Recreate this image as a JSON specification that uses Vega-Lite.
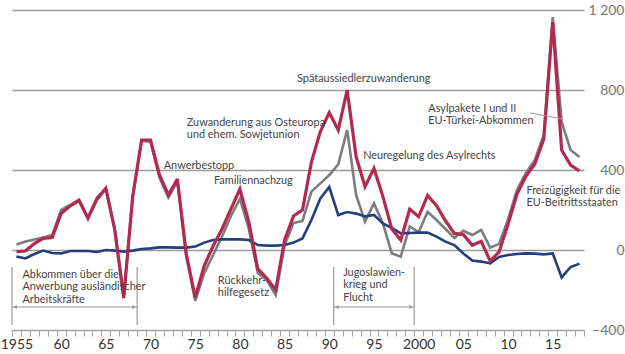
{
  "$schema": "https://vega.github.io/schema/vega-lite/v6.json",
  "width": 572,
  "height": 320,
  "autosize": {"type": "none"},
  "padding": {"left": 12, "top": 10, "right": 41, "bottom": 24},
  "background": "white",
  "config": {"view": {"stroke": null}, "font": "Lato"},
  "resolve": {"axis": {"x": "independent"}},
  "datasets": {
    "lines": [
      {"year":1955,"series":"Gesamt","value":-8},{"year":1955,"series":"Ausländer","value":28},{"year":1955,"series":"Deutsche","value":-32},
      {"year":1956,"series":"Gesamt","value":-5},{"year":1956,"series":"Ausländer","value":42},{"year":1956,"series":"Deutsche","value":-42},
      {"year":1957,"series":"Gesamt","value":32},{"year":1957,"series":"Ausländer","value":53},{"year":1957,"series":"Deutsche","value":-20},
      {"year":1958,"series":"Gesamt","value":58},{"year":1958,"series":"Ausländer","value":63},{"year":1958,"series":"Deutsche","value":-3},
      {"year":1959,"series":"Gesamt","value":62},{"year":1959,"series":"Ausländer","value":75},{"year":1959,"series":"Deutsche","value":-15},
      {"year":1960,"series":"Gesamt","value":183},{"year":1960,"series":"Ausländer","value":200},{"year":1960,"series":"Deutsche","value":-17},
      {"year":1961,"series":"Gesamt","value":220},{"year":1961,"series":"Ausländer","value":225},{"year":1961,"series":"Deutsche","value":-5},
      {"year":1962,"series":"Gesamt","value":247},{"year":1962,"series":"Ausländer","value":252},{"year":1962,"series":"Deutsche","value":-5},
      {"year":1963,"series":"Gesamt","value":158},{"year":1963,"series":"Ausländer","value":163},{"year":1963,"series":"Deutsche","value":-5},
      {"year":1964,"series":"Gesamt","value":253},{"year":1964,"series":"Ausländer","value":263},{"year":1964,"series":"Deutsche","value":-10},
      {"year":1965,"series":"Gesamt","value":308},{"year":1965,"series":"Ausländer","value":308},{"year":1965,"series":"Deutsche","value":0},
      {"year":1966,"series":"Gesamt","value":100},{"year":1966,"series":"Ausländer","value":103},{"year":1966,"series":"Deutsche","value":-3},
      {"year":1967,"series":"Gesamt","value":-240},{"year":1967,"series":"Ausländer","value":-232},{"year":1967,"series":"Deutsche","value":-8},
      {"year":1968,"series":"Gesamt","value":265},{"year":1968,"series":"Ausländer","value":268},{"year":1968,"series":"Deutsche","value":-3},
      {"year":1969,"series":"Gesamt","value":550},{"year":1969,"series":"Ausländer","value":545},{"year":1969,"series":"Deutsche","value":5},
      {"year":1970,"series":"Gesamt","value":550},{"year":1970,"series":"Ausländer","value":542},{"year":1970,"series":"Deutsche","value":8},
      {"year":1971,"series":"Gesamt","value":375},{"year":1971,"series":"Ausländer","value":362},{"year":1971,"series":"Deutsche","value":13},
      {"year":1972,"series":"Gesamt","value":275},{"year":1972,"series":"Ausländer","value":262},{"year":1972,"series":"Deutsche","value":13},
      {"year":1973,"series":"Gesamt","value":355},{"year":1973,"series":"Ausländer","value":343},{"year":1973,"series":"Deutsche","value":12},
      {"year":1974,"series":"Gesamt","value":-20},{"year":1974,"series":"Ausländer","value":-32},{"year":1974,"series":"Deutsche","value":12},
      {"year":1975,"series":"Gesamt","value":-237},{"year":1975,"series":"Ausländer","value":-254},{"year":1975,"series":"Deutsche","value":17},
      {"year":1976,"series":"Gesamt","value":-80},{"year":1976,"series":"Ausländer","value":-117},{"year":1976,"series":"Deutsche","value":37},
      {"year":1977,"series":"Gesamt","value":20},{"year":1977,"series":"Ausländer","value":-25},{"year":1977,"series":"Deutsche","value":50},
      {"year":1978,"series":"Gesamt","value":105},{"year":1978,"series":"Ausländer","value":68},{"year":1978,"series":"Deutsche","value":53},
      {"year":1979,"series":"Gesamt","value":205},{"year":1979,"series":"Ausländer","value":170},{"year":1979,"series":"Deutsche","value":53},
      {"year":1980,"series":"Gesamt","value":305},{"year":1980,"series":"Ausländer","value":255},{"year":1980,"series":"Deutsche","value":53},
      {"year":1981,"series":"Gesamt","value":140},{"year":1981,"series":"Ausländer","value":105},{"year":1981,"series":"Deutsche","value":50},
      {"year":1982,"series":"Gesamt","value":-95},{"year":1982,"series":"Ausländer","value":-115},{"year":1982,"series":"Deutsche","value":25},
      {"year":1983,"series":"Gesamt","value":-140},{"year":1983,"series":"Ausländer","value":-150},{"year":1983,"series":"Deutsche","value":22},
      {"year":1984,"series":"Gesamt","value":-200},{"year":1984,"series":"Ausländer","value":-225},{"year":1984,"series":"Deutsche","value":22},
      {"year":1985,"series":"Gesamt","value":50},{"year":1985,"series":"Ausländer","value":25},{"year":1985,"series":"Deutsche","value":25},
      {"year":1986,"series":"Gesamt","value":170},{"year":1986,"series":"Ausländer","value":135},{"year":1986,"series":"Deutsche","value":37},
      {"year":1987,"series":"Gesamt","value":200},{"year":1987,"series":"Ausländer","value":145},{"year":1987,"series":"Deutsche","value":58},
      {"year":1988,"series":"Gesamt","value":440},{"year":1988,"series":"Ausländer","value":292},{"year":1988,"series":"Deutsche","value":150},
      {"year":1989,"series":"Gesamt","value":592},{"year":1989,"series":"Ausländer","value":333},{"year":1989,"series":"Deutsche","value":258},
      {"year":1990,"series":"Gesamt","value":687},{"year":1990,"series":"Ausländer","value":375},{"year":1990,"series":"Deutsche","value":315},
      {"year":1991,"series":"Gesamt","value":600},{"year":1991,"series":"Ausländer","value":428},{"year":1991,"series":"Deutsche","value":175},
      {"year":1992,"series":"Gesamt","value":800},{"year":1992,"series":"Ausländer","value":600},{"year":1992,"series":"Deutsche","value":190},
      {"year":1993,"series":"Gesamt","value":467},{"year":1993,"series":"Ausländer","value":275},{"year":1993,"series":"Deutsche","value":182},
      {"year":1994,"series":"Gesamt","value":317},{"year":1994,"series":"Ausländer","value":142},{"year":1994,"series":"Deutsche","value":168},
      {"year":1995,"series":"Gesamt","value":408},{"year":1995,"series":"Ausländer","value":233},{"year":1995,"series":"Deutsche","value":175},
      {"year":1996,"series":"Gesamt","value":267},{"year":1996,"series":"Ausländer","value":133},{"year":1996,"series":"Deutsche","value":133},
      {"year":1997,"series":"Gesamt","value":105},{"year":1997,"series":"Ausländer","value":-17},{"year":1997,"series":"Deutsche","value":110},
      {"year":1998,"series":"Gesamt","value":50},{"year":1998,"series":"Ausländer","value":-33},{"year":1998,"series":"Deutsche","value":83},
      {"year":1999,"series":"Gesamt","value":205},{"year":1999,"series":"Ausländer","value":118},{"year":1999,"series":"Deutsche","value":85},
      {"year":2000,"series":"Gesamt","value":167},{"year":2000,"series":"Ausländer","value":90},{"year":2000,"series":"Deutsche","value":87},
      {"year":2001,"series":"Gesamt","value":273},{"year":2001,"series":"Ausländer","value":190},{"year":2001,"series":"Deutsche","value":87},
      {"year":2002,"series":"Gesamt","value":222},{"year":2002,"series":"Ausländer","value":150},{"year":2002,"series":"Deutsche","value":67},
      {"year":2003,"series":"Gesamt","value":146},{"year":2003,"series":"Ausländer","value":105},{"year":2003,"series":"Deutsche","value":42},
      {"year":2004,"series":"Gesamt","value":83},{"year":2004,"series":"Ausländer","value":60},{"year":2004,"series":"Deutsche","value":25},
      {"year":2005,"series":"Gesamt","value":77},{"year":2005,"series":"Ausländer","value":96},{"year":2005,"series":"Deutsche","value":-17},
      {"year":2006,"series":"Gesamt","value":24},{"year":2006,"series":"Ausländer","value":75},{"year":2006,"series":"Deutsche","value":-53},
      {"year":2007,"series":"Gesamt","value":43},{"year":2007,"series":"Ausländer","value":101},{"year":2007,"series":"Deutsche","value":-58},
      {"year":2008,"series":"Gesamt","value":-55},{"year":2008,"series":"Ausländer","value":12},{"year":2008,"series":"Deutsche","value":-67},
      {"year":2009,"series":"Gesamt","value":-10},{"year":2009,"series":"Ausländer","value":30},{"year":2009,"series":"Deutsche","value":-35},
      {"year":2010,"series":"Gesamt","value":128},{"year":2010,"series":"Ausländer","value":153},{"year":2010,"series":"Deutsche","value":-25},
      {"year":2011,"series":"Gesamt","value":280},{"year":2011,"series":"Ausländer","value":300},{"year":2011,"series":"Deutsche","value":-20},
      {"year":2012,"series":"Gesamt","value":368},{"year":2012,"series":"Ausländer","value":385},{"year":2012,"series":"Deutsche","value":-17},
      {"year":2013,"series":"Gesamt","value":430},{"year":2013,"series":"Ausländer","value":450},{"year":2013,"series":"Deutsche","value":-18},
      {"year":2014,"series":"Gesamt","value":555},{"year":2014,"series":"Ausländer","value":577},{"year":2014,"series":"Deutsche","value":-22},
      {"year":2015,"series":"Gesamt","value":1140},{"year":2015,"series":"Ausländer","value":1165},{"year":2015,"series":"Deutsche","value":-17},
      {"year":2016,"series":"Gesamt","value":500},{"year":2016,"series":"Ausländer","value":640},{"year":2016,"series":"Deutsche","value":-137},
      {"year":2017,"series":"Gesamt","value":425},{"year":2017,"series":"Ausländer","value":500},{"year":2017,"series":"Deutsche","value":-85},
      {"year":2018,"series":"Gesamt","value":395},{"year":2018,"series":"Ausländer","value":465},{"year":2018,"series":"Deutsche","value":-68}
    ],
    "rules": [
      {"x":1954.5,"x2":1954.5,"y":-85,"y2":-375},
      {"x":1968.5,"x2":1968.5,"y":-85,"y2":-375},
      {"x":1954.5,"x2":1968.5,"y":-285,"y2":-285},
      {"x":1990.5,"x2":1990.5,"y":-85,"y2":-375},
      {"x":1999.5,"x2":1999.5,"y":-85,"y2":-375},
      {"x":1990.5,"x2":1999.5,"y":-285,"y2":-285},
      {"x":2012.5,"x2":2016.1,"y":685,"y2":655}
    ],
    "arrows": [
      {"year":1954.85,"value":-285,"dir":"l"},
      {"year":1968.15,"value":-285,"dir":"r"},
      {"year":1990.85,"value":-285,"dir":"l"},
      {"year":1999.15,"value":-285,"dir":"r"}
    ],
    "notes": [
      {"year":1986.39,"value":885,"label":["Spätaussiedlerzuwanderung"]},
      {"year":1974.06,"value":665,"label":["Zuwanderung aus Osteuropa","und ehem. Sowjetunion"]},
      {"year":1971.48,"value":450,"label":["Anwerbestopp"]},
      {"year":1977.09,"value":375,"label":["Familiennachzug"]},
      {"year":1977.53,"value":-125,"label":["Rückkehr-","hilfegesetz"]},
      {"year":1993.79,"value":500,"label":["Neuregelung des Asylrechts"]},
      {"year":2001.08,"value":735,"label":["Asylpakete I und II","EU-Türkei-Abkommen"]},
      {"year":2012.06,"value":325,"label":["Freizügigkeit für die","EU-Beitrittsstaaten"]},
      {"year":1955.67,"value":-95,"label":["Abkommen über die","Anwerbung ausländischer","Arbeitskräfte"]},
      {"year":1991.55,"value":-85,"label":["Jugoslawien-","krieg und","Flucht"]}
    ]
  },
  "layer": [
    {
      "data": {"name": "lines"},
      "transform": [{"filter": "datum.series == 'Ausländer'"}],
      "mark": {"type": "line", "color": "#7d7d7d", "strokeWidth": 2.6, "strokeJoin": "miter", "strokeMiterLimit": 3},
      "encoding": {
        "x": {
          "field": "year", "type": "quantitative",
          "scale": {"domain": [1954.5, 2018.5], "nice": false, "zero": false},
          "axis": {
            "orient": "bottom", "title": null, "grid": false, "labels": false,
            "values": [1954.5,1955.5,1956.5,1957.5,1958.5,1959.5,1960.5,1961.5,1962.5,1963.5,1964.5,1965.5,1966.5,1967.5,1968.5,1969.5,1970.5,1971.5,1972.5,1973.5,1974.5,1975.5,1976.5,1977.5,1978.5,1979.5,1980.5,1981.5,1982.5,1983.5,1984.5,1985.5,1986.5,1987.5,1988.5,1989.5,1990.5,1991.5,1992.5,1993.5,1994.5,1995.5,1996.5,1997.5,1998.5,1999.5,2000.5,2001.5,2002.5,2003.5,2004.5,2005.5,2006.5,2007.5,2008.5,2009.5,2010.5,2011.5,2012.5,2013.5,2014.5,2015.5,2016.5,2017.5,2018.5],
            "domain": true, "domainColor": "#a0a0a0", "domainWidth": 1,
            "ticks": true, "tickColor": "#a0a0a0", "tickSize": 6, "tickWidth": 1
          }
        },
        "y": {
          "field": "value", "type": "quantitative",
          "scale": {"domain": [-400, 1200], "nice": false},
          "axis": {
            "orient": "right", "title": null, "values": [-400, 0, 400, 800, 1200],
            "labelExpr": "datum.value == 1200 ? '1 200' : datum.label",
            "grid": true, "gridColor": "#9a9a9a", "gridWidth": 1.5,
            "domain": false, "ticks": false, "labelAlign": "right", "labelPadding": 40,
            "labelFontSize": 14, "labelColor": "#777777", "labelBaseline": "middle"
          }
        }
      }
    },
    {
      "data": {"name": "lines"},
      "transform": [{"filter": "datum.series == 'Deutsche'"}],
      "mark": {"type": "line", "color": "#243f7c", "strokeWidth": 2.6, "strokeJoin": "miter", "strokeMiterLimit": 3},
      "encoding": {
        "x": {"field": "year", "type": "quantitative", "axis": null},
        "y": {"field": "value", "type": "quantitative"}
      }
    },
    {
      "data": {"name": "lines"},
      "transform": [{"filter": "datum.series == 'Gesamt'"}],
      "mark": {"type": "line", "color": "#b22a4f", "strokeWidth": 3.2, "strokeJoin": "miter", "strokeMiterLimit": 3},
      "encoding": {
        "x": {
          "field": "year", "type": "quantitative",
          "axis": {
            "orient": "bottom", "title": null, "grid": false, "domain": false, "ticks": false,
            "values": [1955, 1960, 1965, 1970, 1975, 1980, 1985, 1990, 1995, 2000, 2005, 2010, 2015],
            "labelExpr": "(datum.value == 1955 || datum.value == 2000) ? '' + datum.value : slice('' + datum.value, 2)",
            "labelOverlap": false, "labelFlush": false, "labelBound": false,
            "labelFontSize": 14, "labelColor": "#333333", "labelPadding": 7
          }
        },
        "y": {"field": "value", "type": "quantitative"}
      }
    },
    {
      "data": {"name": "rules"},
      "mark": {"type": "rule", "color": "#9a9a9a", "strokeWidth": 1.2},
      "encoding": {
        "x": {"field": "x", "type": "quantitative", "axis": null},
        "x2": {"field": "x2"},
        "y": {"field": "y", "type": "quantitative"},
        "y2": {"field": "y2"}
      }
    },
    {
      "data": {"name": "arrows"},
      "mark": {"type": "point", "filled": true, "color": "#9a9a9a", "size": 18, "opacity": 1},
      "encoding": {
        "x": {"field": "year", "type": "quantitative", "axis": null},
        "y": {"field": "value", "type": "quantitative"},
        "shape": {"field": "dir", "type": "nominal", "legend": null, "scale": {"domain": ["l", "r"], "range": ["triangle-left", "triangle-right"]}}
      }
    },
    {
      "data": {"name": "notes"},
      "mark": {"type": "text", "align": "left", "baseline": "top", "fontSize": 10.9, "lineHeight": 12.3, "color": "#444444", "font": "Lato"},
      "encoding": {
        "x": {"field": "year", "type": "quantitative", "axis": null},
        "y": {"field": "value", "type": "quantitative"},
        "text": {"field": "label"}
      }
    }
  ]
}
